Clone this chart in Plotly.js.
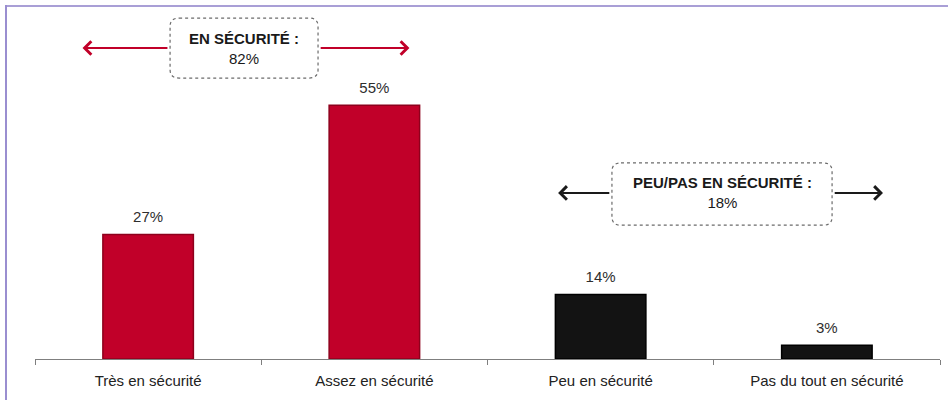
<!DOCTYPE html>
<html>
<head>
<meta charset="utf-8">
<script src="https://cdn.plot.ly/plotly-3.0.1.min.js"></script>
<style>
  html, body { margin: 0; padding: 0; background: #fff; }
  #wrap { position: relative; width: 948px; height: 400px; }
  #chart { width: 948px; height: 400px; }
  #frameTop { position: absolute; left: 6px; top: 5px; width: 942px; height: 2px; background: #a99fd6; }
  #frameLeft { position: absolute; left: 5px; top: 5px; width: 2px; height: 395px; background: #9a8ed0; }
</style>
</head>
<body>
<div id="wrap">
  <div id="chart"></div>
  <div id="frameTop"></div>
  <div id="frameLeft"></div>
</div>
<script>
// ---- data ----
const categories = ["Très en sécurité", "Assez en sécurité", "Peu en sécurité", "Pas du tout en sécurité"];
const values = [27, 55, 14, 3];
const valueLabels = ["27%", "55%", "14%", "3%"];
const barColors = ["#c10029", "#c10029", "#131313", "#131313"];
const barEdge = ["#8e001c", "#8e001c", "#000000", "#000000"];
const groupTitles = ["EN SÉCURITÉ :", "PEU/PAS EN SÉCURITÉ :"];
const groupTotals = ["82%", "18%"];

const FONT = "Liberation Sans, Arial, sans-serif";

const bars = {
  type: "bar",
  x: categories,
  y: values,
  width: 0.4,
  marker: { color: barColors, line: { color: barEdge, width: 1.5 } },
  hoverinfo: "skip"
};

const labels = {
  type: "scatter",
  mode: "markers+text",
  x: categories,
  y: values,
  text: valueLabels,
  textposition: "top center",
  textfont: { family: FONT, size: 15, color: "#2e2e2e" },
  marker: { size: 12, opacity: 0 },
  cliponaxis: false,
  hoverinfo: "skip"
};

// rounded dotted box path in data coordinates
function roundBox(x0, x1, y0, y1, rx, ry) {
  return `M ${x0 + rx},${y1} L ${x1 - rx},${y1} Q ${x1},${y1} ${x1},${y1 - ry} ` +
         `L ${x1},${y0 + ry} Q ${x1},${y0} ${x1 - rx},${y0} L ${x0 + rx},${y0} ` +
         `Q ${x0},${y0} ${x0},${y0 + ry} L ${x0},${y1 - ry} Q ${x0},${y1} ${x0 + rx},${y1} Z`;
}

const rx = 0.04, ry = 1.8;
const box1 = { x0: 0.097, x1: 0.751, y0: 60.9, y1: 73.9, ymid: 67.4 };
const box2 = { x0: 2.050, x1: 3.023, y0: 29.0, y1: 42.5, ymid: 36.0 };

const shapes = [
  { type: "path", xref: "x", yref: "y", path: roundBox(box1.x0, box1.x1, box1.y0, box1.y1, rx, ry),
    line: { color: "#6b6b6b", width: 1.2, dash: "dot" }, fillcolor: "rgba(0,0,0,0)" },
  { type: "path", xref: "x", yref: "y", path: roundBox(box2.x0, box2.x1, box2.y0, box2.y1, rx, ry),
    line: { color: "#6b6b6b", width: 1.2, dash: "dot" }, fillcolor: "rgba(0,0,0,0)" }
];

function arrow(xFrom, xTo, y, color) {
  return { x: xTo, y: y, ax: xFrom, ay: y, xref: "x", yref: "y", axref: "x", ayref: "y",
           text: "", showarrow: true, arrowhead: 4, arrowsize: 1.3, arrowwidth: 2,
           arrowcolor: color, standoff: 0, startstandoff: 0 };
}

const annotations = [
  arrow(box1.x0 - 0.005, -0.29, box1.ymid, "#c10029"),
  arrow(box1.x1 + 0.005, 1.155, box1.ymid, "#c10029"),
  arrow(box2.x0 - 0.005, 1.812, box2.ymid, "#1a1a1a"),
  arrow(box2.x1 + 0.005, 3.248, box2.ymid, "#1a1a1a"),
  { x: (box1.x0 + box1.x1) / 2, y: box1.ymid, xref: "x", yref: "y", showarrow: false,
    text: "<b>" + groupTitles[0] + "</b><br>" + groupTotals[0], align: "center",
    font: { family: FONT, size: 15, color: "#1a1a1a" } },
  { x: (box2.x0 + box2.x1) / 2, y: box2.ymid, xref: "x", yref: "y", showarrow: false,
    text: "<b>" + groupTitles[1] + "</b><br>" + groupTotals[1], align: "center",
    font: { family: FONT, size: 15, color: "#1a1a1a" } }
];

const layout = {
  width: 948, height: 400,
  margin: { l: 35, r: 8, t: 13, b: 41 },
  paper_bgcolor: "#ffffff", plot_bgcolor: "#ffffff",
  showlegend: false,
  xaxis: {
    type: "category", range: [-0.5, 3.5],
    showline: true, linecolor: "#7f7f7f", linewidth: 1,
    ticks: "outside", ticklen: 5, tickcolor: "#7f7f7f", tickson: "boundaries",
    ticklabelstandoff: 8,
    tickfont: { family: FONT, size: 15, color: "#222" },
    showgrid: false, zeroline: false, fixedrange: true
  },
  yaxis: {
    range: [0, 75], visible: false, showgrid: false, zeroline: false, fixedrange: true
  },
  shapes: shapes,
  annotations: annotations
};

Plotly.newPlot("chart", [bars, labels], layout, { displayModeBar: false, staticPlot: true });
</script>
</body>
</html>
